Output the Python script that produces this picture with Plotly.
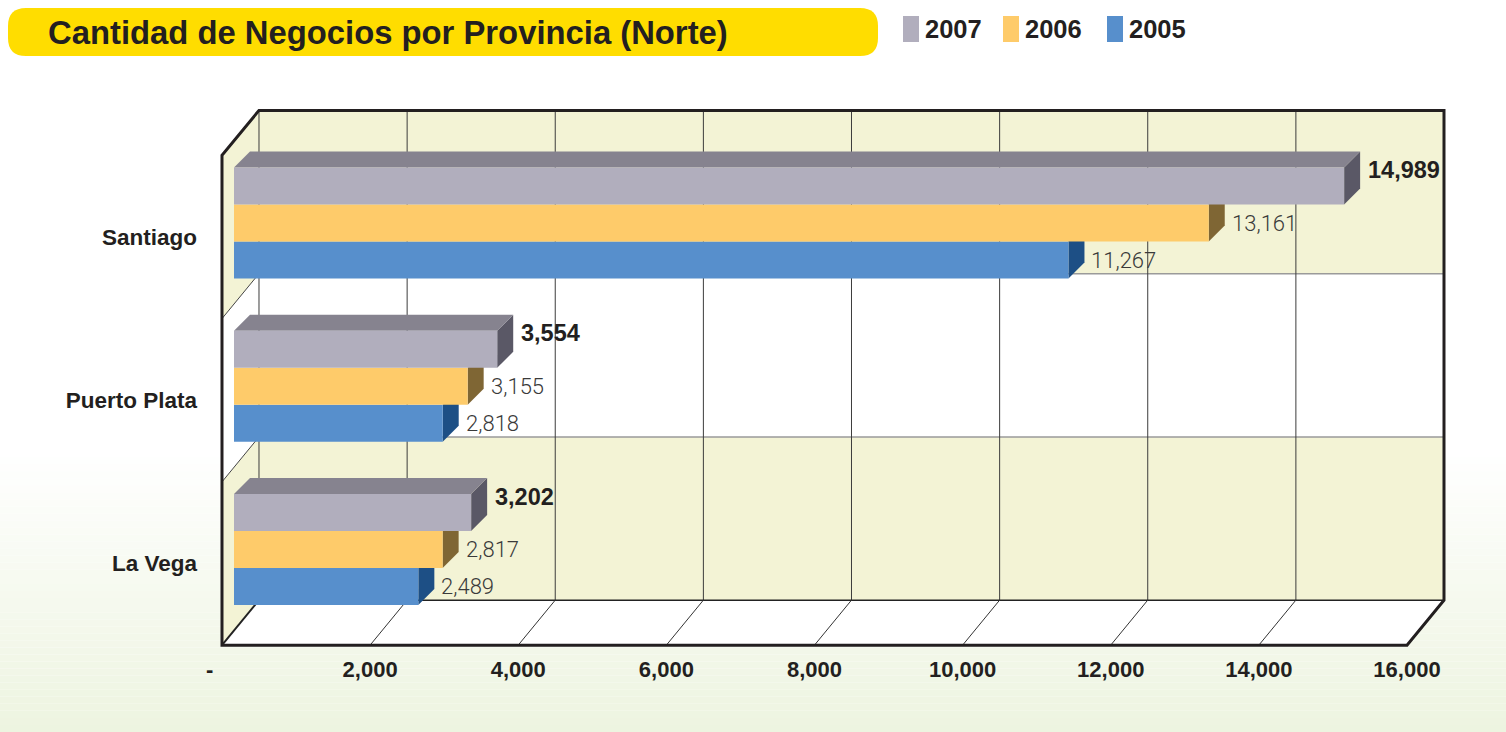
import plotly.graph_objects as go

# ---------------- data ----------------
categories = ["La Vega", "Puerto Plata", "Santiago"]
years = ["2005", "2006", "2007"]
v2005 = [2489, 2818, 11267]
v2006 = [2817, 3155, 13161]
v2007 = [3202, 3554, 14989]
x_tickvals = [0, 2000, 4000, 6000, 8000, 10000, 12000, 14000, 16000]
x_ticktext = ["-\u00a0\u00a0\u00a0\u00a0", "2,000", "4,000", "6,000", "8,000",
              "10,000", "12,000", "14,000", "16,000"]
title_text = "Cantidad de Negocios por Provincia (Norte)"

# ---------------- styling / geometry ----------------
W, H = 1506, 732
FONT = "Liberation Sans, Arial, sans-serif"
TXT = "#231f20"
front_col = {"2005": "#578fcc", "2006": "#fecb6a", "2007": "#b1aebd"}
side_col = {"2005": "#1d4f85", "2006": "#7f6634", "2007": "#5a5866"}
top_col = "#86838f"
CREAM = "#f3f3d5"

X0PX = 222.0            # pixel of x=0 on front plane
PXU = 1185.0 / 16000    # px per x-unit
XR = [-1000, 17000]
Y0PX = 549.5            # pixel of category index 0 (bar plane)
PYU = 163.25            # px per category
YR = [-1, 3]

xdom = [(X0PX + XR[0] * PXU) / W, (X0PX + XR[1] * PXU) / W]
ydom = [1 - (Y0PX - YR[0] * PYU) / H, 1 - (Y0PX - YR[1] * PYU) / H]

BAR_BASE = 12 / PXU      # bar plane x offset
FY = -14 / PYU           # front plane y shift
BACK_X = 37 / PXU        # back wall x offset
BY = 31 / PYU            # back wall y shift
BDX = 16 / PXU           # bar depth (x)
BDY = 16 / PYU           # bar depth (y)
GROUP = 0.68
BW = GROUP / 3
XMAX = x_tickvals[-1]

series = [("2005", v2005), ("2006", v2006), ("2007", v2007)]

fig = go.Figure()
for j, (yr, vals) in enumerate(series):
    fig.add_trace(go.Bar(
        y=list(range(len(categories))), x=vals, base=BAR_BASE,
        orientation="h", width=BW, offset=-GROUP / 2 + j * BW,
        marker=dict(color=front_col[yr], line=dict(width=0)),
        name=yr, showlegend=False,
        hovertemplate=yr + ": %{x:,}<extra></extra>",
    ))

shapes = []
# background gradient
N = 40
top_px, bot_px = 450, H
for k in range(N):
    p0 = top_px + (bot_px - top_px) * k / N
    p1 = top_px + (bot_px - top_px) * (k + 1) / N
    t = (k + 0.5) / N
    c = [round(255 + (e - 255) * t) for e in (237, 244, 224)]
    shapes.append(dict(type="rect", xref="paper", yref="paper", x0=0, x1=1,
                       y0=1 - p1 / H, y1=1 - p0 / H, layer="below",
                       fillcolor="rgb(%d,%d,%d)" % tuple(c), line=dict(width=0)))

# title box (rounded)
bx0, bx1, by0, by1, r = 8, 878, 8, 56, 18
def P(px, py):
    return "%.5f,%.5f" % (px / W, 1 - py / H)
path = ("M " + P(bx0 + r, by0) + " L " + P(bx1 - r, by0) + " Q " + P(bx1, by0) + " " + P(bx1, by0 + r) +
        " L " + P(bx1, by1 - r) + " Q " + P(bx1, by1) + " " + P(bx1 - r, by1) +
        " L " + P(bx0 + r, by1) + " Q " + P(bx0, by1) + " " + P(bx0, by1 - r) +
        " L " + P(bx0, by0 + r) + " Q " + P(bx0, by0) + " " + P(bx0 + r, by0) + " Z")
shapes.append(dict(type="path", xref="paper", yref="paper", path=path, layer="below",
                   fillcolor="#ffdd00", line=dict(width=0)))

# legend (manual)
annotations = []
leg = [("2007", 903), ("2006", 1003), ("2005", 1107)]
for yr, lx in leg:
    shapes.append(dict(type="rect", xref="paper", yref="paper",
                       x0=lx / W, x1=(lx + 16) / W, y0=1 - 42 / H, y1=1 - 16 / H,
                       fillcolor=front_col[yr], line=dict(width=0)))
    annotations.append(dict(xref="paper", yref="paper", x=(lx + 20) / W, y=1 - 29 / H,
                            xanchor="left", yanchor="middle", showarrow=False, text="<b>%s</b>" % yr,
                            font=dict(family=FONT, size=25.5, color=TXT)))

annotations.append(dict(xref="paper", yref="paper", x=46 / W, y=1 - 33 / H,
                        xanchor="left", yanchor="middle", showarrow=False,
                        text="<b>%s</b>" % title_text,
                        font=dict(family=FONT, size=32.8, color=TXT)))

def dpath(pts):
    return "M " + " L ".join("%.4f,%.5f" % p for p in pts) + " Z"

def dline(x0, y0, x1, y1, color, width):
    return dict(type="line", xref="x", yref="y", x0=x0, y0=y0, x1=x1, y1=y1,
                layer="below", line=dict(color=color, width=width))

ncat = len(categories)
ylo, yhi = -0.5, ncat - 0.5
# back wall bands + left wall bands
for i in range(ncat):
    col = CREAM if i % 2 == 0 else "#ffffff"
    shapes.append(dict(type="rect", xref="x", yref="y", x0=BACK_X, x1=BACK_X + XMAX,
                       y0=i - 0.5 + BY, y1=i + 0.5 + BY, layer="below",
                       fillcolor=col, line=dict(width=0)))
    shapes.append(dict(type="path", xref="x", yref="y", layer="below",
                       path=dpath([(0, i - 0.5 + FY), (0, i + 0.5 + FY),
                                   (BACK_X, i + 0.5 + BY), (BACK_X, i - 0.5 + BY)]),
                       fillcolor=col, line=dict(width=0)))
# floor
shapes.append(dict(type="path", xref="x", yref="y", layer="below",
                   path=dpath([(0, ylo + FY), (XMAX, ylo + FY), (XMAX + BACK_X, ylo + BY), (BACK_X, ylo + BY)]),
                   fillcolor="#ffffff", line=dict(width=0)))
# horizontal band lines on back wall + left wall diagonals
for i in range(ncat - 1):
    b = i + 0.5
    shapes.append(dline(BACK_X, b + BY, BACK_X + XMAX, b + BY, "#9a9a9a", 1.5))
    shapes.append(dline(0, b + FY, BACK_X, b + BY, "#444444", 1))
# vertical gridlines on back wall
for t in x_tickvals:
    shapes.append(dline(BACK_X + t, ylo + BY, BACK_X + t, yhi + BY, "#3c3c3c", 1))
# floor back edge and diagonals
shapes.append(dline(BACK_X, ylo + BY, BACK_X + XMAX, ylo + BY, "#222222", 1.5))
for t in x_tickvals[1:-1]:
    shapes.append(dline(t, ylo + FY, t + BACK_X, ylo + BY, "#333333", 1))
shapes.append(dline(0, ylo + FY, BACK_X, ylo + BY, "#222222", 2))
# frame
frame = ("M %.4f,%.5f L %.4f,%.5f L %.4f,%.5f L %.4f,%.5f L %.4f,%.5f L %.4f,%.5f Z" % (
    0, ylo + FY, 0, yhi + FY, BACK_X, yhi + BY, BACK_X + XMAX, yhi + BY,
    BACK_X + XMAX, ylo + BY, XMAX, ylo + FY))
shapes.append(dict(type="path", xref="x", yref="y", layer="below", path=frame,
                   line=dict(color="#231f20", width=3)))

# 3D bar faces (side faces, top faces)
for j, (yr, vals) in enumerate(series):
    for i, v in enumerate(vals):
        y0 = i - GROUP / 2 + j * BW
        y1 = y0 + BW
        xe = BAR_BASE + v
        shapes.append(dict(type="path", xref="x", yref="y", layer="below",
                           path=dpath([(xe, y0), (xe, y1), (xe + BDX, y1 + BDY), (xe + BDX, y0 + BDY)]),
                           fillcolor=side_col[yr], line=dict(width=0)))
        if j == len(series) - 1:
            shapes.append(dict(type="path", xref="x", yref="y", layer="below",
                               path=dpath([(BAR_BASE, y1), (xe, y1), (xe + BDX, y1 + BDY), (BAR_BASE + BDX, y1 + BDY)]),
                               fillcolor=top_col, line=dict(width=0)))
        # value labels
        top = (j == len(series) - 1)
        gap = (6 if top else 5) / PXU
        annotations.append(dict(
            xref="x", yref="y", x=xe + BDX + gap, y=(y0 + y1) / 2 + (BDY if top else 0),
            xanchor="left", yanchor="middle", showarrow=False,
            text=("<b>%s</b>" % format(v, ",")) if top else format(v, ","),
            font=dict(family=FONT if top else "Roboto, " + FONT, size=23.5 if top else 22,
                      color=TXT if top else "#3a3a3a", weight=None if top else 300)))

fig.update_layout(
    width=W, height=H, autosize=False,
    margin=dict(l=0, r=0, t=0, b=0, pad=0),
    paper_bgcolor="#ffffff", plot_bgcolor="rgba(0,0,0,0)",
    barmode="overlay",
    shapes=shapes, annotations=annotations,
    xaxis=dict(domain=xdom, range=XR, anchor="free", position=1 - 654 / H,
               tickvals=x_tickvals, ticktext=x_ticktext, showgrid=False, zeroline=False,
               showline=False, ticks="",
               tickfont=dict(family=FONT, size=22, color=TXT, weight="bold")),
    yaxis=dict(domain=ydom, range=YR, anchor="free", position=197 / W,
               tickvals=[i + FY for i in range(ncat)], ticktext=categories,
               showgrid=False, zeroline=False, showline=False, ticks="",
               tickfont=dict(family=FONT, size=22.5, color=TXT, weight="bold")),
    showlegend=False,
)

fig.write_html("out.html", config={"displayModeBar": False},
               post_script="document.body.style.margin='0px';")
